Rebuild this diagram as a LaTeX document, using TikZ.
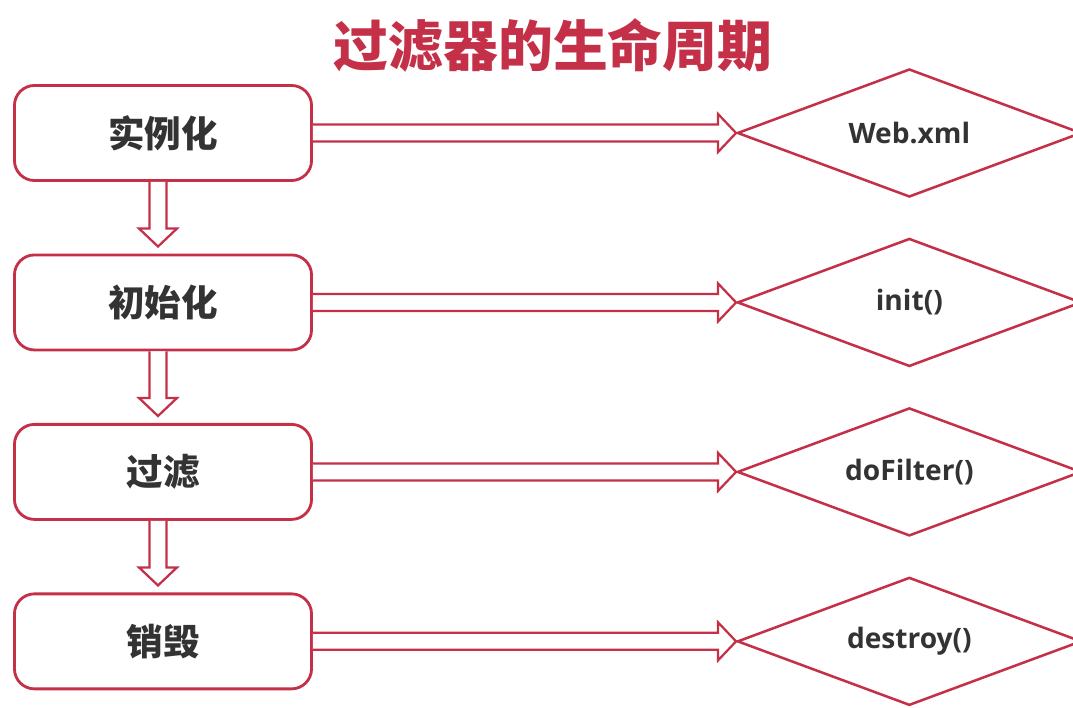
\documentclass[tikz,border=0pt]{standalone}
\usepackage{fontspec}
\setmainfont{Noto Sans CJK SC}
\newfontfamily\codefont{Open Sans}
\definecolor{LifeRed}{RGB}{196,48,72}
\definecolor{LifeText}{RGB}{51,51,51}
\usetikzlibrary{
    shapes.geometric,
    positioning,
    calc,
}

\tikzset{
    stagebox/.style={draw=LifeRed, line width=2pt, rounded corners=0.5cm, fill=white,
        minimum width=7.425cm, minimum height=2.375cm, text=LifeText,
        font=\fontsize{26}{30}\selectfont\bfseries},
    methodbox/.style={draw=LifeRed, line width=1.8pt, diamond, aspect=2.63, inner sep=0pt,
        minimum width=8.6cm, minimum height=3.2cm, text=LifeText,
        font=\codefont\fontsize{20}{24}\selectfont\bfseries},
    hollow/.style={draw=LifeRed, line width=1.6pt, fill=white, line join=miter},
}

% hollow block arrows, box to box
\newcommand{\hollowright}[2]{%
    \draw[hollow] ($(#1.east)+(0,-8.5)$) -- ($(#2.west)+(-18,-8.5)$) -- ($(#2.west)+(-18,-19)$)
        -- (#2.west) -- ($(#2.west)+(-18,19)$) -- ($(#2.west)+(-18,8.5)$) -- ($(#1.east)+(0,8.5)$);}
\newcommand{\hollowdown}[2]{%
    \draw[hollow] ($(#1.south)+(-13.5,0)$) -- ($(#2.north)+(-13.5,-25)$) -- ($(#2.north)+(-24,-25)$)
        -- ($(#2.north)+(-5,-7)$) -- ($(#2.north)+(14,-25)$) -- ($(#2.north)+(3.5,-25)$) -- ($(#1.south)+(3.5,0)$);}

\begin{document}
\begin{tikzpicture}[x=0.025cm, y=-0.025cm]
    \useasboundingbox (0,0) rectangle (1073,708);

    \node[text=LifeRed, font=\fontsize{39}{44}\selectfont\bfseries] (title) at (553,45) {过滤器的生命周期};

    \node[stagebox] (inst) at (163,133) {实例化};
    \node[stagebox, below=1.79cm of inst] (init) {初始化};
    \node[stagebox, below=1.79cm of init] (filt) {过滤};
    \node[stagebox, below=1.79cm of filt] (dest) {销毁};

    \node[methodbox, right=10.575cm of inst] (webxml) {Web.xml};
    \node[methodbox, right=10.575cm of init] (initm) {init()};
    \node[methodbox, right=10.575cm of filt] (dofilt) {doFilter()};
    \node[methodbox, right=10.575cm of dest] (destm) {destroy()};

    \hollowdown{inst}{init}
    \hollowdown{init}{filt}
    \hollowdown{filt}{dest}

    \hollowright{inst}{webxml}
    \hollowright{init}{initm}
    \hollowright{filt}{dofilt}
    \hollowright{dest}{destm}
\end{tikzpicture}
\end{document}
